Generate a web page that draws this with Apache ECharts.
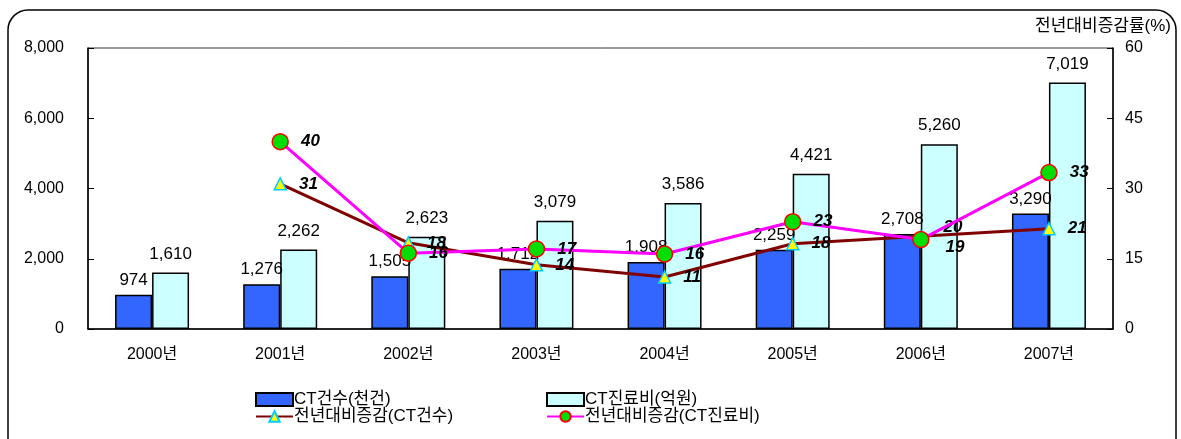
<!DOCTYPE html>
<html>
<head>
<meta charset="utf-8">
<script src="https://cdn.jsdelivr.net/npm/echarts@6/dist/echarts.min.js"></script>
<style>
html,body{margin:0;padding:0;background:#fff;}
#main{width:1181px;height:439px;}
</style>
</head>
<body>
<div id="main"></div>
<script>
// 연도별 CT 건수 / 진료비
var years = ['2000년','2001년','2002년','2003년','2004년','2005년','2006년','2007년'];
var ctCount = [974, 1276, 1505, 1712, 1908, 2259, 2708, 3290];      // 천건
var ctCost = [1610, 2262, 2623, 3079, 3586, 4421, 5260, 7019];      // 억원
var countRate = ['-', 31, 18.4, 13.7, 11.1, 18.2, 19.8, 21.4];      // 전년대비 증감(CT건수)
var costRate = ['-', 40, 16.2, 17.1, 16.0, 22.9, 19.1, 33.4];       // 전년대비 증감(CT진료비)

var fontFam = '"Liberation Sans", Arial, "Noto Sans CJK KR", sans-serif';

var chart = echarts.init(document.getElementById('main'));

function numFmt(p){
	return p.value.toLocaleString('en-US');
}
function rateFmt(p){
	return Math.round(p.value);
}

var rateLabel = {
	show: true,
	position: 'right',
	distance: 12,
	color: '#000',
	fontSize: 17,
	fontWeight: 'bold',
	fontStyle: 'italic',
	fontFamily: fontFam,
	formatter: rateFmt
};

// 2006년 라벨은 위/아래로 살짝 비켜놓음
var countRateData = countRate.map(function(v, i){
	if(i == 6) return {value: v, label: {offset: [4, -9]}};
	return v;
});
var costRateData = costRate.map(function(v, i){
	if(i == 6) return {value: v, label: {offset: [4, 8]}};
	return v;
});

var legendText = {fontSize: 17, color: '#000', padding: [0, 0, 0, -4]};

var option = {
	animation: false,
	textStyle: {fontFamily: fontFam},
	grid: {
		left: 88,
		right: 68,
		top: 48,
		bottom: 110,
		show: true,
		borderColor: '#333',
		borderWidth: 1
	},
	legend: [
		{
			data: [{name: 'CT건수(천건)', icon: 'rect'}, '전년대비증감(CT건수)'],
			orient: 'vertical',
			left: 250,
			top: 386,
			itemGap: 0,
			itemWidth: 37,
			itemHeight: 13,
			textStyle: legendText
		},
		{
			data: [{name: 'CT진료비(억원)', icon: 'rect'}, '전년대비증감(CT진료비)'],
			orient: 'vertical',
			left: 541,
			top: 386,
			itemGap: 0,
			itemWidth: 37,
			itemHeight: 13,
			textStyle: legendText
		}
	],
	xAxis: {
		type: 'category',
		data: years,
		axisLine: {lineStyle: {color: '#000', width: 1.5}},
		axisTick: {inside: true, length: 5, lineStyle: {color: '#000'}},
		axisLabel: {color: '#000', fontSize: 16, margin: 18}
	},
	yAxis: [
		{
			type: 'value',
			min: 0,
			max: 8000,
			interval: 2000,
			splitLine: {show: false},
			axisLine: {show: true, lineStyle: {color: '#000', width: 1.5}},
			axisTick: {show: true, inside: true, length: 6, lineStyle: {color: '#000'}},
			axisLabel: {
				color: '#000',
				fontSize: 16,
				margin: 24,
				formatter: function(v){ return v.toLocaleString('en-US'); }
			}
		},
		{
			type: 'value',
			min: 0,
			max: 60,
			interval: 15,
			position: 'right',
			splitLine: {show: false},
			axisLine: {show: true, lineStyle: {color: '#000', width: 1.5}},
			axisTick: {show: true, inside: true, length: 6, lineStyle: {color: '#000'}},
			axisLabel: {color: '#000', fontSize: 16, margin: 12}
		}
	],
	series: [
		{
			name: 'CT건수(천건)',
			type: 'bar',
			data: ctCount,
			barWidth: 37,
			barGap: '0%',
			itemStyle: {color: '#3366ff', borderColor: '#000', borderWidth: 1.5},
			label: {
				show: true,
				position: 'top',
				distance: 6,
				color: '#000',
				fontSize: 17,
				formatter: numFmt
			}
		},
		{
			name: 'CT진료비(억원)',
			type: 'bar',
			data: ctCost,
			barWidth: 37,
			barGap: '0%',
			itemStyle: {color: '#ccffff', borderColor: '#000', borderWidth: 1.5},
			label: {
				show: true,
				position: 'top',
				distance: 10,
				color: '#000',
				fontSize: 17,
				formatter: numFmt
			}
		},
		{
			name: '전년대비증감(CT건수)',
			type: 'line',
			yAxisIndex: 1,
			data: countRateData,
			symbol: 'triangle',
			symbolSize: 12,
			lineStyle: {color: '#800000', width: 3},
			itemStyle: {color: '#ffff00', borderColor: '#00ccff', borderWidth: 1.5},
			label: rateLabel,
			z: 3
		},
		{
			name: '전년대비증감(CT진료비)',
			type: 'line',
			yAxisIndex: 1,
			data: costRateData,
			symbol: 'circle',
			symbolSize: 16,
			lineStyle: {color: '#ff00ff', width: 3},
			itemStyle: {color: '#00dd00', borderColor: '#ff0000', borderWidth: 1.5},
			label: rateLabel,
			z: 4
		}
	],
	graphic: [
		{
			type: 'rect',
			shape: {x: 8, y: 10, width: 1168, height: 450, r: 20},
			style: {fill: 'none', stroke: '#000', lineWidth: 1.5},
			silent: true
		},
		{
			type: 'text',
			right: 10,
			top: 18,
			style: {text: '전년대비증감률(%)', fontSize: 17, fill: '#000', fontFamily: fontFam}
		}
	]
};

chart.setOption(option);
</script>
</body>
</html>
